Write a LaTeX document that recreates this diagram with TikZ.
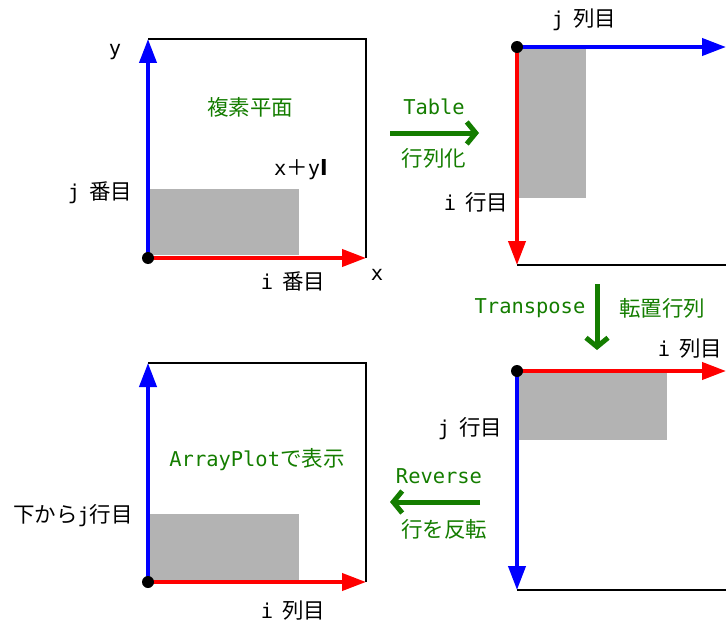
\documentclass[tikz,border=0pt]{standalone}
\usepackage{fontspec}
\setmainfont{Noto Sans CJK JP}
\newfontfamily\lat[Scale=0.95]{DejaVu Sans Mono}
\usetikzlibrary{arrows.meta}
\definecolor{gr}{RGB}{20,125,0}
\definecolor{shade}{RGB}{179,179,179}
\newcommand{\gp}{\hspace{9pt}}
\tikzset{
  axr/.style={draw=red,line width=4pt,-{Triangle[length=24pt,width=17pt]}},
  axb/.style={draw=blue,line width=4pt,-{Triangle[length=24pt,width=17pt]}},
  frame/.style={draw=black,line width=1.5pt},
  opbox/.style={fill=shade,draw=none},
  dot/.style={circle,fill=black,inner sep=0pt,minimum size=12pt},
  lbl/.style={font=\fontsize{21.5}{24}\selectfont,inner sep=0pt,text=black},
  glbl/.style={font=\fontsize{21.5}{24}\selectfont,inner sep=0pt,text=gr},
  op/.style={draw=gr,line width=5pt,-{Straight Barb[length=9pt,width=22pt,line width=5pt]}},
}
\begin{document}
\begin{tikzpicture}[x=1pt,y=-1pt]
\useasboundingbox (0,0) rectangle (726,626);
% ---------- panel 1: complex plane ----------
\fill[opbox] (150,189) rectangle (299,255);
\coordinate (p1o) at (148,258);
\coordinate (p1y) at (148,39);
\coordinate (p1x) at (366,258);
\coordinate (p1c) at (366,39);
\draw[frame] (p1y) -- (p1c) -- (p1x);
\draw[axb] (p1o) -- (p1y);
\draw[axr] (p1o) -- (p1x);
\node[dot] (d1) at (p1o) {};
\node[lbl] (ly) at (115,52) {\lat y};
\node[lbl] (lx) at (377,275) {\lat x};
\node[glbl] (t1) at (250,107) {複素平面};
\node[lbl] (xy) at (301,170) {{\lat x}＋{\lat y}\textbf{I}};
\node[lbl] (j1) at (100,193) {{\lat j}\gp 番目};
\node[lbl] (i1) at (293,281) {{\lat i}\gp 番目};
% ---------- panel 2: matrix ----------
\fill[opbox] (519,49) rectangle (586,198);
\coordinate (p2o) at (517,47);
\coordinate (p2r) at (726,47);
\coordinate (p2d) at (517,265);
\coordinate (p2e) at (727,265);
\draw[frame] (p2d) -- (p2e);
\draw[axb] (p2o) -- (p2r);
\draw[axr] (p2o) -- (p2d);
\node[dot] (d2) at (p2o) {};
\node[lbl] (j2) at (584,20) {{\lat j}\gp 列目};
\node[lbl] (i2) at (476,202) {{\lat i}\gp 行目};
% ---------- panel 3: transposed ----------
\fill[opbox] (519,373) rectangle (667,440);
\coordinate (p3o) at (517,371);
\coordinate (p3r) at (726,371);
\coordinate (p3d) at (517,590);
\coordinate (p3e) at (727,590);
\draw[frame] (p3d) -- (p3e);
\draw[axr] (p3o) -- (p3r);
\draw[axb] (p3o) -- (p3d);
\node[dot] (d3) at (p3o) {};
\node[lbl] (i3) at (690,349) {{\lat i}\gp 列目};
\node[lbl] (j3) at (470,429) {{\lat j}\gp 行目};
% ---------- panel 4: ArrayPlot ----------
\fill[opbox] (150,514) rectangle (299,580);
\coordinate (p4o) at (148,582);
\coordinate (p4y) at (148,363);
\coordinate (p4x) at (366,582);
\coordinate (p4c) at (366,363);
\draw[frame] (p4y) -- (p4c) -- (p4x);
\draw[axb] (p4o) -- (p4y);
\draw[axr] (p4o) -- (p4x);
\node[dot] (d4) at (p4o) {};
\node[glbl] (t4) at (257,460) {{\lat ArrayPlot}で表示};
\node[lbl] (j4) at (73,516) {下から{\lat j}行目};
\node[lbl] (i4) at (293,611) {{\lat i}\gp 列目};
% ---------- operations ----------
\coordinate (a1s) at (390,133);
\coordinate (a1e) at (479,133);
\draw[op] (a1s) -- (a1e);
\node[glbl] (ta) at (434,107) {\lat Table};
\node[glbl] (tb) at (434,158) {行列化};
\coordinate (a2s) at (597,284);
\coordinate (a2e) at (597,350);
\draw[op] (a2s) -- (a2e);
\node[glbl] (tc) at (530,308) {\lat Transpose};
\node[glbl] (td) at (662,308) {転置行列};
\coordinate (a3s) at (480,502);
\coordinate (a3e) at (390,502);
\draw[op] (a3s) -- (a3e);
\node[glbl] (te) at (439,476) {\lat Reverse};
\node[glbl] (tf) at (444,529) {行を反転};
\end{tikzpicture}
\end{document}
